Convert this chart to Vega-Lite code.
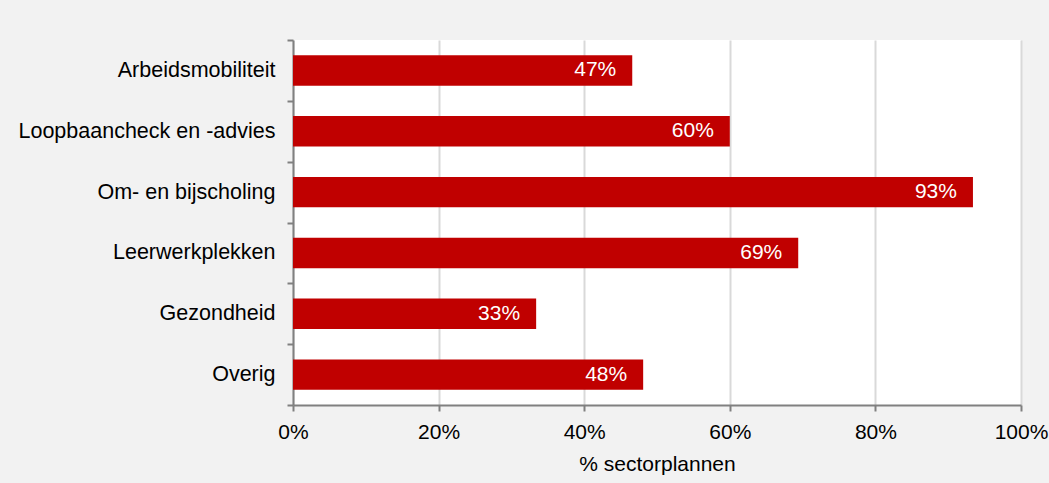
{
  "$schema": "https://vega.github.io/schema/vega-lite/v6.json",
  "width": 728,
  "height": 365,
  "autosize": {"type": "none"},
  "padding": {"left": 293, "top": 40, "right": 28, "bottom": 78},
  "background": "#f2f2f2",
  "config": {
    "view": {"fill": "white", "stroke": null},
    "font": "Liberation Sans",
    "axis": {"labelFont": "Liberation Sans", "titleFont": "Liberation Sans", "labelColor": "#000000", "titleColor": "#000000"}
  },
  "data": {
    "values": [
      {"categorie": "Arbeidsmobiliteit", "aandeel": 0.466},
      {"categorie": "Loopbaancheck en -advies", "aandeel": 0.600},
      {"categorie": "Om- en bijscholing", "aandeel": 0.934},
      {"categorie": "Leerwerkplekken", "aandeel": 0.694},
      {"categorie": "Gezondheid", "aandeel": 0.334},
      {"categorie": "Overig", "aandeel": 0.481}
    ]
  },
  "encoding": {
    "y": {
      "field": "categorie",
      "type": "nominal",
      "sort": null,
      "scale": {"paddingInner": 0, "paddingOuter": 0},
      "axis": {
        "title": null,
        "labelFontSize": 21.5,
        "labelPadding": 12,
        "labelLimit": 400,
        "tickBand": "extent",
        "tickSize": 6,
        "tickColor": "#808080",
        "tickWidth": 2,
        "domainColor": "#808080",
        "domainWidth": 2,
        "grid": false
      }
    },
    "x": {
      "field": "aandeel",
      "type": "quantitative",
      "scale": {"domain": [0, 1], "nice": false},
      "axis": {
        "title": "% sectorplannen",
        "format": ".0%",
        "values": [0, 0.2, 0.4, 0.6, 0.8, 1],
        "labelFlush": false,
        "labelFontSize": 21,
        "titleFontSize": 21,
        "titleFontWeight": "normal",
        "labelPadding": 10,
        "titlePadding": 11,
        "tickSize": 6,
        "tickColor": "#808080",
        "tickWidth": 2,
        "domainColor": "#808080",
        "domainWidth": 2,
        "gridColor": "#d9d9d9",
        "gridWidth": 2
      }
    }
  },
  "layer": [
    {"mark": {"type": "bar", "color": "#c00000", "height": {"band": 0.5}}},
    {
      "mark": {"type": "text", "align": "right", "baseline": "middle", "dx": -16, "color": "white", "fontSize": 21},
      "encoding": {"text": {"field": "aandeel", "type": "quantitative", "format": ".0%"}}
    }
  ]
}
